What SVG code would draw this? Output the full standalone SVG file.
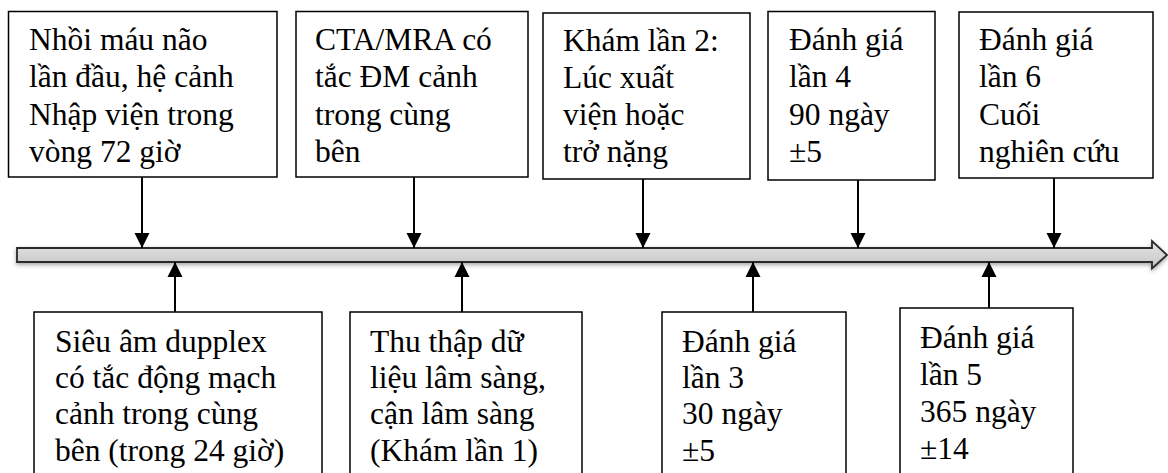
<svg xmlns="http://www.w3.org/2000/svg" width="1168" height="473" viewBox="0 0 1168 473">
  <style>
    .box { fill: #ffffff; stroke: #000000; stroke-width: 1.5; }
    .t { font-family: "Liberation Serif", "Times New Roman", serif; font-size: 31.5px; fill: #000000; }
    .conn { stroke: #000000; stroke-width: 2; fill: none; }
  </style>
  <defs>
    <linearGradient id="barGrad" x1="0" y1="0" x2="0" y2="1">
      <stop offset="0" stop-color="#e6e6e6"/>
      <stop offset="1" stop-color="#c4c4c4"/>
    </linearGradient>
    <filter id="shadow" x="-5%" y="-50%" width="110%" height="200%">
      <feDropShadow dx="0" dy="2" stdDeviation="2" flood-color="#000000" flood-opacity="0.35"/>
    </filter>
    <marker id="ah" markerUnits="userSpaceOnUse" markerWidth="16" markerHeight="16" viewBox="0 0 16 16" refX="15" refY="8" orient="auto">
      <path d="M0,0.5 L15,8 L0,15.5 Z" fill="#000000"/>
    </marker>
  </defs>

  <!-- timeline bar -->
  <g id="timeline">
    <path d="M17,248 L1152,248 L1152,241 L1167,255 L1152,268.5 L1152,262 L17,262 Z" fill="url(#barGrad)" stroke="#2a2a2a" stroke-width="1.8" stroke-linejoin="miter" filter="url(#shadow)"/>
  </g>

  <!-- top nodes -->
  <g id="n1">
    <rect class="box" x="8.5" y="11.5" width="268.5" height="165.5"/>
    <text class="t" x="29" y="50">Nhồi máu não</text>
    <text class="t" x="29" y="87">lần đầu, hệ cảnh</text>
    <text class="t" x="29" y="124.5">Nhập viện trong</text>
    <text class="t" x="29" y="161.5">vòng 72 giờ</text>
  </g>
  <g id="n2">
    <rect class="box" x="296" y="11.5" width="232" height="165.5"/>
    <text class="t" x="315" y="50">CTA/MRA có</text>
    <text class="t" x="315" y="87">tắc ĐM cảnh</text>
    <text class="t" x="315" y="124.5">trong cùng</text>
    <text class="t" x="315" y="161.5">bên</text>
  </g>
  <g id="n3">
    <rect class="box" x="543" y="13" width="207" height="166"/>
    <text class="t" x="563" y="51">Khám lần 2:</text>
    <text class="t" x="563" y="88">Lúc xuất</text>
    <text class="t" x="563" y="125">viện hoặc</text>
    <text class="t" x="563" y="162">trở nặng</text>
  </g>
  <g id="n4">
    <rect class="box" x="768" y="11.5" width="167" height="168.5"/>
    <text class="t" x="789" y="50">Đánh giá</text>
    <text class="t" x="789" y="87">lần 4</text>
    <text class="t" x="789" y="124.5">90 ngày</text>
    <text class="t" x="789" y="161.5">±5</text>
  </g>
  <g id="n5">
    <rect class="box" x="959" y="12" width="194" height="166"/>
    <text class="t" x="979" y="50">Đánh giá</text>
    <text class="t" x="979" y="87">lần 6</text>
    <text class="t" x="979" y="124.5">Cuối</text>
    <text class="t" x="979" y="161.5">nghiên cứu</text>
  </g>

  <!-- bottom nodes -->
  <g id="b1">
    <rect class="box" x="34" y="312" width="288" height="180"/>
    <text class="t" x="55" y="351.5">Siêu âm dupplex</text>
    <text class="t" x="55" y="388">có tắc động mạch</text>
    <text class="t" x="55" y="424">cảnh trong cùng</text>
    <text class="t" x="55" y="460.5">bên (trong 24 giờ)</text>
  </g>
  <g id="b2">
    <rect class="box" x="350" y="312" width="232" height="180"/>
    <text class="t" x="370" y="351.5">Thu thập dữ</text>
    <text class="t" x="370" y="388">liệu lâm sàng,</text>
    <text class="t" x="370" y="424">cận lâm sàng</text>
    <text class="t" x="370" y="460.5">(Khám lần 1)</text>
  </g>
  <g id="b3">
    <rect class="box" x="662" y="312" width="184" height="180"/>
    <text class="t" x="682" y="351.5">Đánh giá</text>
    <text class="t" x="682" y="388">lần 3</text>
    <text class="t" x="682" y="424">30 ngày</text>
    <text class="t" x="682" y="460.5">±5</text>
  </g>
  <g id="b4">
    <rect class="box" x="900" y="308" width="173" height="184"/>
    <text class="t" x="920" y="348">Đánh giá</text>
    <text class="t" x="920" y="385">lần 5</text>
    <text class="t" x="920" y="421.5">365 ngày</text>
    <text class="t" x="920" y="459">±14</text>
  </g>

  <!-- connectors -->
  <g id="connectors">
    <line class="conn" x1="142" y1="177" x2="142" y2="248" marker-end="url(#ah)"/>
    <line class="conn" x1="414" y1="177" x2="414" y2="248" marker-end="url(#ah)"/>
    <line class="conn" x1="643" y1="179" x2="643" y2="248" marker-end="url(#ah)"/>
    <line class="conn" x1="858" y1="180" x2="858" y2="248" marker-end="url(#ah)"/>
    <line class="conn" x1="1054" y1="178" x2="1054" y2="248" marker-end="url(#ah)"/>
    <line class="conn" x1="175" y1="312" x2="175" y2="262" marker-end="url(#ah)"/>
    <line class="conn" x1="462" y1="312" x2="462" y2="262" marker-end="url(#ah)"/>
    <line class="conn" x1="753" y1="312" x2="753" y2="262" marker-end="url(#ah)"/>
    <line class="conn" x1="989" y1="308" x2="989" y2="262" marker-end="url(#ah)"/>
  </g>
</svg>
